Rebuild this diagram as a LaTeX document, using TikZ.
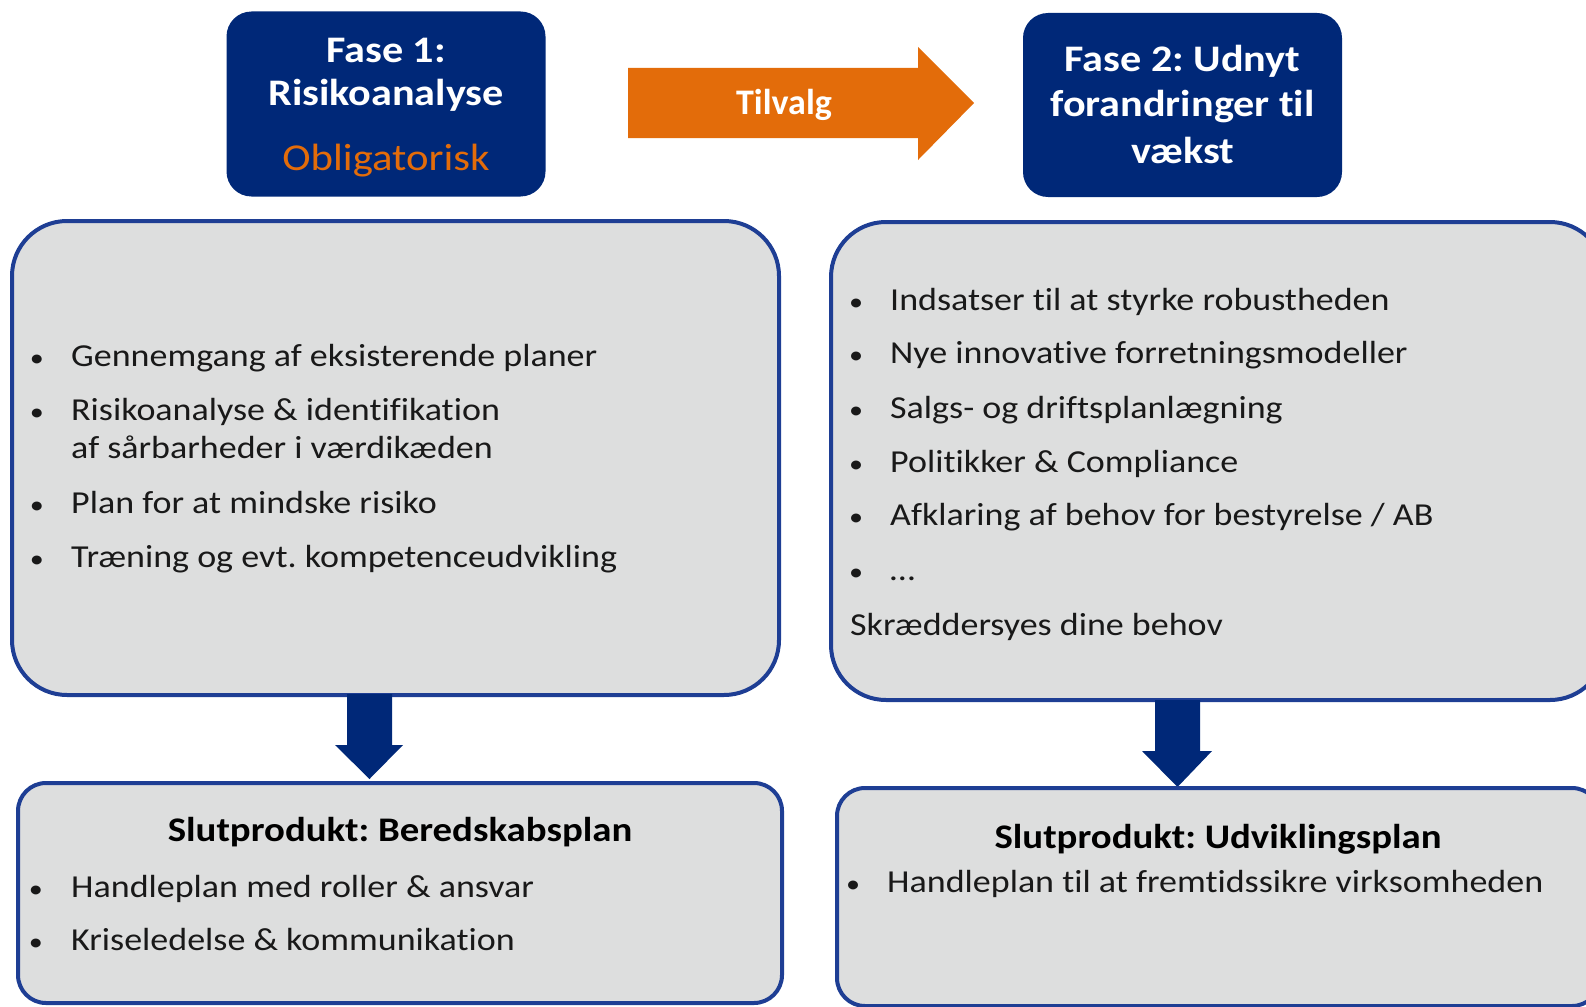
\documentclass[tikz,border=0pt]{standalone}
\usepackage{fontspec}
\setmainfont{Carlito}[FakeStretch=1.125,Ligatures=NoCommon]
\newfontfamily\tilf{Carlito}[FakeStretch=1.0,Ligatures=NoCommon]
\usetikzlibrary{calc}
\definecolor{navy}{RGB}{0,40,120}
\definecolor{orng}{RGB}{227,108,10}
\definecolor{boxgray}{RGB}{221,222,222}
\definecolor{boxline}{RGB}{30,62,148}
\definecolor{txt}{RGB}{25,25,25}
\frenchspacing
\begin{document}
\begin{tikzpicture}[x=1pt,y=-1pt,
  phase/.style={fill=navy, rounded corners=25pt, inner sep=0pt},
  bigbox/.style={fill=boxgray, draw=boxline, line width=4pt, rounded corners=55pt, inner sep=0pt},
  endbox/.style={fill=boxgray, draw=boxline, line width=4pt, rounded corners=28pt, inner sep=0pt},
  body/.style={anchor=base west, inner sep=0pt, text=txt, font=\fontsize{32}{38}\selectfont},
  bul/.style={anchor=base, inner sep=0pt, text=txt, font=\fontsize{25}{30}\selectfont},
  head/.style={anchor=base, inner sep=0pt, text=white, font=\fontsize{37.5}{44}\selectfont\bfseries},
  title/.style={anchor=base, inner sep=0pt, text=black, font=\fontsize{34.5}{40}\selectfont\bfseries},
]
\useasboundingbox (0,0) rectangle (1586,1006);
\clip (0,0) rectangle (1586,1006);

% phase boxes
\node[phase, minimum width=319pt, minimum height=185pt] (f1) at (386,104) {};
\node[phase, minimum width=319pt, minimum height=184pt] (f2) at (1182.5,105) {};
\node[head] (f1a) at (386,63) {Fase 1:};
\node[head] (f1b) at (386,106) {Risikoanalyse};
\node[anchor=base, inner sep=0pt, text=orng, font=\fontsize{38}{44}\selectfont] (f1c) at (386,170) {Obligatorisk};
\node[head] (f2a) at (1182.5,72) {Fase 2: Udnyt};
\node[head] (f2b) at (1182.5,117) {forandringer til};
\node[head] (f2c) at (1182.5,163) {vækst};

% orange arrow
\fill[orng] (628,68) -- (918,68) -- (918,47) -- (974,103) -- (918,160) -- (918,138) -- (628,138) -- cycle;
\node[anchor=base, inner sep=0pt, text=white, font=\fontsize{36}{42}\selectfont\tilf\bfseries] (tv) at (784,114) {Tilvalg};

% big boxes
\node[bigbox, minimum width=767pt, minimum height=474pt] (b1) at (395.5,458) {};
\node[bigbox, minimum width=774pt, minimum height=478pt] (b2) at (1218,461) {};

% down arrows
\fill[navy] (347,694) -- (392,694) -- (392,745) -- (403,745) -- (369.5,779) -- (335,745) -- (347,745) -- cycle;
\fill[navy] (1155,700) -- (1200,700) -- (1200,751) -- (1212,751) -- (1177.5,787) -- (1142,751) -- (1155,751) -- cycle;

% end boxes
\node[endbox, minimum width=764pt, minimum height=220pt] (e1) at (400,893) {};
\node[endbox, minimum width=763pt, minimum height=218pt] (e2) at (1218.5,897) {};

% left big box text
\node[bul] (lb1) at (37,366) {•};
\node[body] (lt1) at (71,366) {Gennemgang af eksisterende planer};
\node[bul] (lb2) at (37,420) {•};
\node[body] (lt2) at (71,420) {Risikoanalyse \& identifikation};
\node[body] (lt2b) at (71,458) {af sårbarheder i værdikæden};
\node[bul] (lb3) at (37,513) {•};
\node[body] (lt3) at (71,513) {Plan for at mindske risiko};
\node[bul] (lb4) at (37,567) {•};
\node[body] (lt4) at (71,567) {Træning og evt. kompetenceudvikling};

% right big box text
\node[bul] (rb1) at (856,310) {•};
\node[body] (rt1) at (890,310) {Indsatser til at styrke robustheden};
\node[bul] (rb2) at (856,363) {•};
\node[body] (rt2) at (890,363) {Nye innovative forretningsmodeller};
\node[bul] (rb3) at (856,418) {•};
\node[body] (rt3) at (890,418) {Salgs- og driftsplanlægning};
\node[bul] (rb4) at (856,472) {•};
\node[body] (rt4) at (890,472) {Politikker \& Compliance};
\node[bul] (rb5) at (856,525) {•};
\node[body] (rt5) at (890,525) {Afklaring af behov for bestyrelse / AB};
\node[bul] (rb6) at (856,580) {•};
\node[body] (rt6) at (890,580) {…};
\node[body] (rt7) at (850,635) {Skræddersyes dine behov};

% end box texts
\node[title] (et1) at (400,841) {Slutprodukt: Beredskabsplan};
\node[bul] (eb1) at (36,897) {•};
\node[body] (el1) at (71,897) {Handleplan med roller \& ansvar};
\node[bul] (eb2) at (36,950) {•};
\node[body] (el2) at (71,950) {Kriseledelse \& kommunikation};

\node[title] (et2) at (1218,848) {Slutprodukt: Udviklingsplan};
\node[bul] (eb3) at (853,892) {•};
\node[body] (er1) at (887,892) {Handleplan til at fremtidssikre virksomheden};
\end{tikzpicture}
\end{document}
